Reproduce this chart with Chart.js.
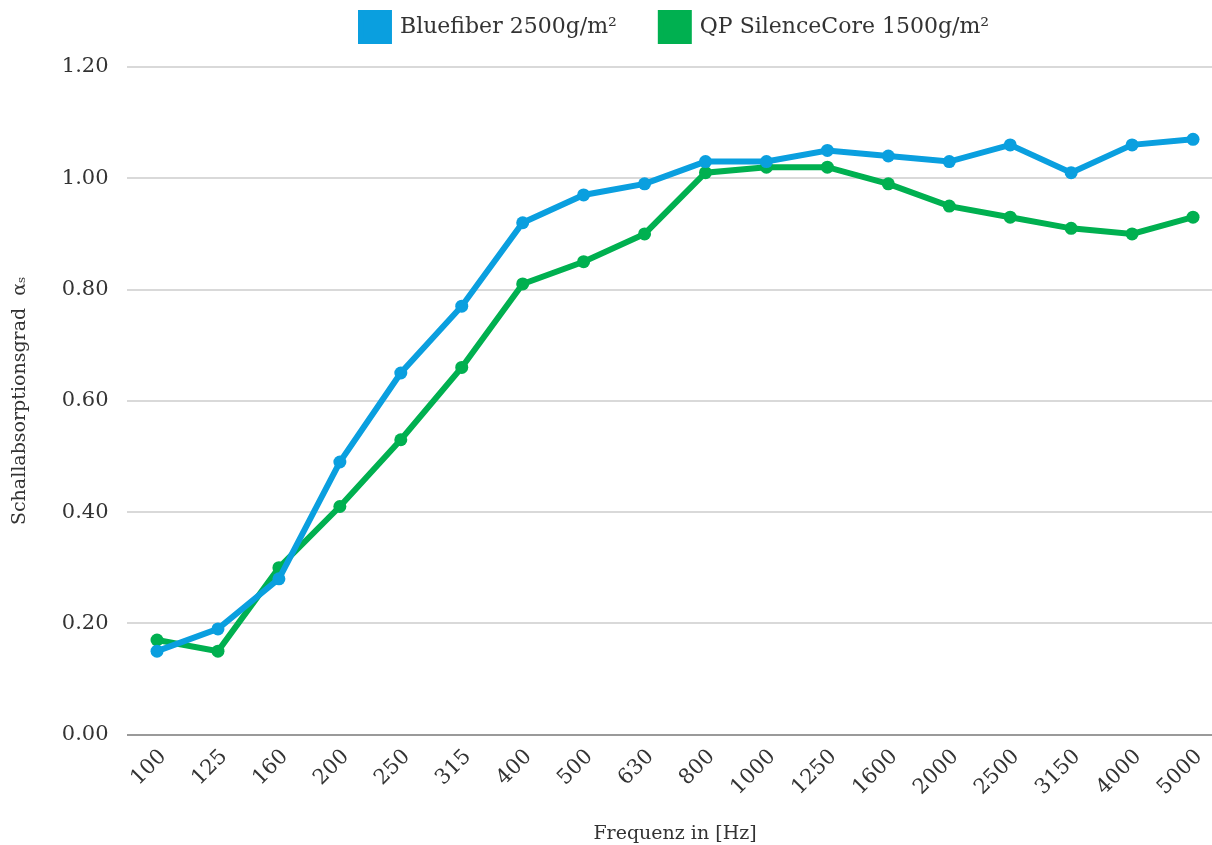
<!DOCTYPE html>
<html>
<head>
<meta charset="utf-8">
<script src="https://cdn.jsdelivr.net/npm/chart.js@4/dist/chart.umd.min.js"></script>
<style>
  html, body { margin: 0; padding: 0; background: #fff; overflow: hidden; }
  body { width: 1212px; height: 845px; }
  #wrap { width: 1230px; height: 845px; }
</style>
</head>
<body>
<div id="wrap"><canvas id="chart-absorption"></canvas></div>
<script>
  "use strict";

  // data
  var frequencies = ["100", "125", "160", "200", "250", "315", "400", "500", "630", "800",
    "1000", "1250", "1600", "2000", "2500", "3150", "4000", "5000"];
  var bluefiber = [0.15, 0.19, 0.28, 0.49, 0.65, 0.77, 0.92, 0.97, 0.99, 1.03,
    1.03, 1.05, 1.04, 1.03, 1.06, 1.01, 1.06, 1.07];
  var silenceCore = [0.17, 0.15, 0.30, 0.41, 0.53, 0.66, 0.81, 0.85, 0.90, 1.01,
    1.02, 1.02, 0.99, 0.95, 0.93, 0.91, 0.90, 0.93];
  var yTicks = [0, 0.2, 0.4, 0.6, 0.8, 1.0, 1.2];

  var fontFamily = "'DejaVu Serif', serif";
  var textColor = "#333333";

  // legend: fixed height, centred over the plot area
  var legendTweak = {
    id: 'legendTweak',
    beforeInit: function(chart) {
      var fit = chart.legend.fit;
      chart.legend.fit = function() {
        fit.bind(chart.legend)();
        this.height += 16;
      };
    },
    afterLayout: function(chart) {
      var lg = chart.legend;
      lg.left = chart.chartArea.left;
      lg.right = chart.chartArea.right;
      lg.width = lg.right - lg.left;
    }
  };

  var ctx = document.getElementById('chart-absorption').getContext('2d');
  var absorptionChart = new Chart(ctx, {
    type: 'line',
    data: {
      labels: frequencies,
      datasets: [
      {
        label: "Bluefiber 2500g/m²",
        data: bluefiber,
        borderColor: "#0A9FDF",
        backgroundColor: "#0A9FDF",
        borderWidth: 6,
        pointRadius: 6.5,
        pointBorderWidth: 0,
        tension: 0
      },
      {
        label: "QP SilenceCore 1500g/m²",
        data: silenceCore,
        borderColor: "#00B050",
        backgroundColor: "#00B050",
        borderWidth: 6,
        pointRadius: 6.5,
        pointBorderWidth: 0,
        tension: 0
      }
      ]
    },
    options: {
      responsive: true,
      maintainAspectRatio: false,
      animation: false,
      layout: {
        padding: { top: -31, right: 0, bottom: 0, left: 9 }
      },
      plugins: {
        legend: {
          position: 'top',
          labels: {
            boxWidth: 28,
            boxHeight: 28,
            padding: 44,
            color: textColor,
            font: { family: fontFamily, size: 22 }
          }
        },
        tooltip: { enabled: false }
      },
      scales: {
        x: {
          offset: true,
          grid: { display: false, drawTicks: false },
          border: { display: false },
          ticks: {
            color: textColor,
            maxRotation: 45,
            minRotation: 45,
            padding: 10,
            labelOffset: 6,
            font: { family: fontFamily, size: 21 }
          },
          title: {
            display: true,
            text: "Frequenz in [Hz]",
            color: textColor,
            padding: { top: 12, bottom: 0 },
            font: { family: fontFamily, size: 19 }
          }
        },
        y: {
          min: 0,
          max: 1.2,
          afterBuildTicks: function(axis) {
            axis.ticks = yTicks.map(function(v) { return { value: v }; });
          },
          grid: {
            color: function(c) { return c.tick && c.tick.value === 0 ? "#9a9a9a" : "#d9d9d9"; },
            lineWidth: 2,
            drawTicks: false
          },
          border: { display: false },
          ticks: {
            color: textColor,
            padding: 18,
            font: { family: fontFamily, size: 21 },
            callback: function(v) { return Number(v).toFixed(2); }
          },
          title: {
            display: true,
            text: "Schallabsorptionsgrad  αₛ",
            color: textColor,
            padding: { top: 0, bottom: 12 },
            font: { family: fontFamily, size: 19 }
          }
        }
      }
    },
    plugins: [legendTweak]
  });
</script>
</body>
</html>
